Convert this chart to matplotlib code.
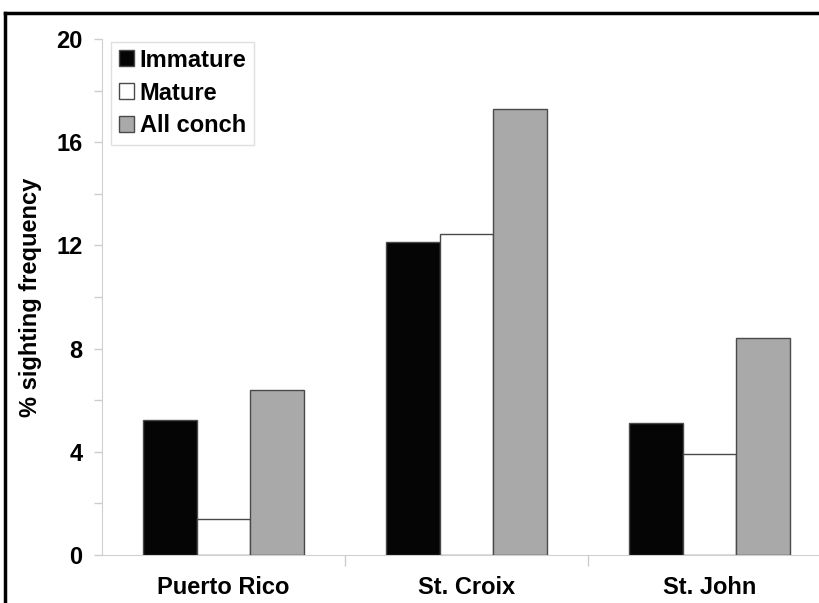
import matplotlib
matplotlib.use("Agg")
import matplotlib.pyplot as plt
from matplotlib.lines import Line2D
import numpy as np

plt.rcParams['font.family'] = ['Liberation Sans', 'DejaVu Sans']

categories = ["Puerto Rico", "St. Croix", "St. John"]
series_names = ["Immature", "Mature", "All conch"]
immature = [5.25, 12.15, 5.1]
mature = [1.38, 12.45, 3.9]
all_conch = [6.38, 17.28, 8.43]
yticks = [0, 4, 8, 12, 16, 20]

colors = ["#050505", "#ffffff", "#a9a9a9"]

fig = plt.figure(figsize=(8.19, 6.03), dpi=100)
ax = fig.add_axes([102/819, 48/603, 729/819, 516/603])

x = np.arange(len(categories))
w = 0.222
for i, (vals, c, name) in enumerate(zip([immature, mature, all_conch], colors, series_names)):
    ax.bar(x + (i - 1) * w, vals, width=w, color=c, edgecolor="#4a4a4a",
           linewidth=1.0, label=name, zorder=3)

fs = 17
ax.set_xlim(-0.5, 2.5)
ax.set_ylim(0, 20)
ax.set_yticks(yticks)
ax.set_yticks(np.arange(2, 20, 4), minor=True)
ax.set_yticklabels([str(t) for t in yticks], fontsize=fs, fontweight="bold")
ax.tick_params(axis="y", which="both", direction="out", length=6, color="#cccccc", width=1, pad=8)
ax.set_xticks(x)
ax.set_xticklabels(categories, fontsize=fs, fontweight="bold")
ax.tick_params(axis="x", which="major", length=0, pad=15)
ax.set_xticks([0.5, 1.5], minor=True)
ax.tick_params(axis="x", which="minor", direction="out", length=8, color="#cccccc", width=1)

for s in ["top", "right"]:
    ax.spines[s].set_visible(False)
ax.spines["left"].set_color("#d0d0d0")
ax.spines["bottom"].set_color("#d0d0d0")

ax.set_ylabel("% sighting frequency", fontsize=fs, fontweight="bold", labelpad=10)

leg = ax.legend(loc="upper left", bbox_to_anchor=(0.013, 0.995),
                prop={"weight": "bold", "size": fs}, frameon=True, fancybox=False,
                handlelength=0.65, handleheight=0.65, handletextpad=0.25,
                borderpad=0.3, labelspacing=0.42, borderaxespad=0)
leg.get_frame().set_edgecolor("#d8d8d8")
leg.get_frame().set_linewidth(1)

# outer frame lines (top and left)
fig.add_artist(Line2D([5/819, 1.0], [1 - 13/603, 1 - 13/603], color="black", linewidth=2.5,
                      transform=fig.transFigure))
fig.add_artist(Line2D([5/819, 5/819], [0, 1 - 13/603], color="black", linewidth=2.5,
                      transform=fig.transFigure))

fig.savefig("out.png", dpi=100)
